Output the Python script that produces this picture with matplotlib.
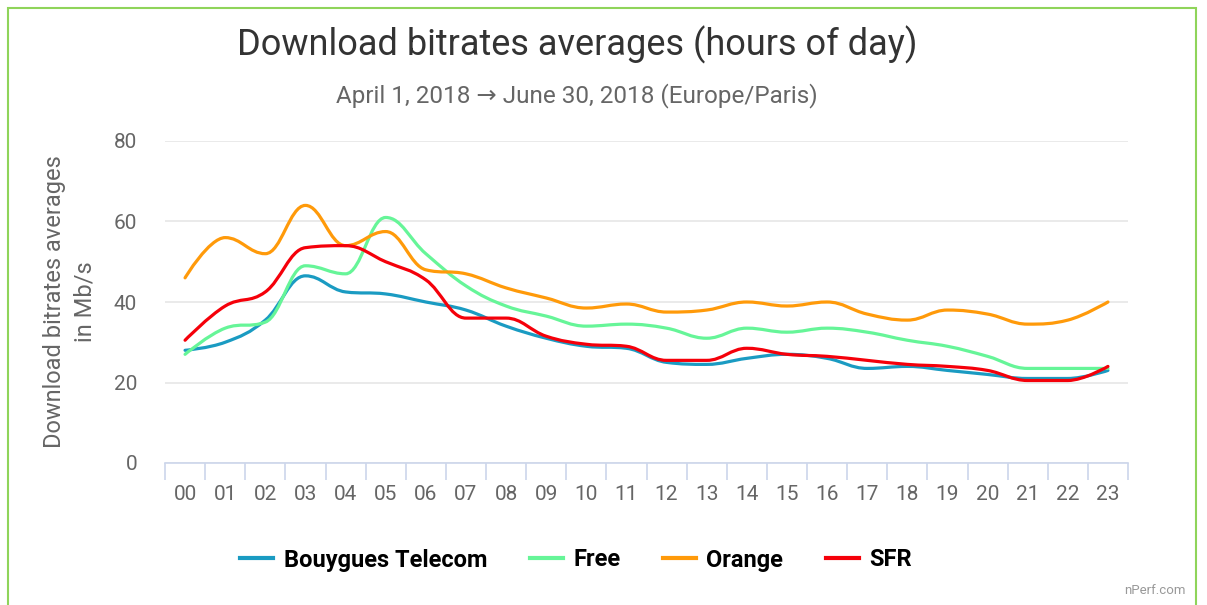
import matplotlib.pyplot as plt
import numpy as np
from matplotlib.path import Path
from matplotlib.patches import PathPatch, Rectangle
from matplotlib.lines import Line2D

plt.rcParams['font.family'] = ['Roboto', 'DejaVu Sans']

hours = ["%02d" % h for h in range(24)]
bouygues = [28, 30, 35.5, 46.5, 42.5, 42, 40, 38, 34, 31, 29, 28.5, 25, 24.5, 26, 27, 26, 23.5, 24, 23, 22, 21, 21, 23]
free = [27, 33.5, 35, 49, 47, 61, 52, 44, 39, 36.5, 34, 34.5, 33.5, 31, 33.5, 32.5, 33.5, 32.5, 30.5, 29, 26.5, 23.5, 23.5, 23.5]
orange = [46, 56, 52, 64, 54, 57.5, 48, 47, 43.5, 41, 38.5, 39.5, 37.5, 38, 40, 39, 40, 37, 35.5, 38, 37, 34.5, 35.5, 40]
sfr = [30.5, 39, 42.5, 53.5, 54, 50, 45.5, 36, 36, 31.5, 29.5, 29, 25.5, 25.5, 28.5, 27, 26.5, 25.5, 24.5, 24, 23, 20.5, 20.5, 24]

series = [("Bouygues Telecom", bouygues, "#1a9bc2"),
          ("Free", free, "#66f598"),
          ("Orange", orange, "#ff9a0a"),
          ("SFR", sfr, "#f5000a")]


def spline_path(xs, ys):
    # Highcharts-like spline through the points
    sm, den = 1.5, 2.5
    n = len(xs)
    verts = [(xs[0], ys[0])]
    codes = [Path.MOVETO]
    right = [None] * n
    left = [None] * n
    for i in range(1, n - 1):
        x, y = xs[i], ys[i]
        px, py = xs[i - 1], ys[i - 1]
        nx, ny = xs[i + 1], ys[i + 1]
        lcx = (sm * x + px) / den
        lcy = (sm * y + py) / den
        rcx = (sm * x + nx) / den
        rcy = (sm * y + ny) / den
        corr = ((rcy - lcy) * (rcx - x)) / (rcx - lcx) + y - rcy
        lcy += corr
        rcy += corr
        if lcy > py and lcy > y:
            lcy = max(py, y)
            rcy = 2 * y - lcy
        elif lcy < py and lcy < y:
            lcy = min(py, y)
            rcy = 2 * y - lcy
        if rcy > ny and rcy > y:
            rcy = max(ny, y)
            lcy = 2 * y - rcy
        elif rcy < ny and rcy < y:
            rcy = min(ny, y)
            lcy = 2 * y - rcy
        left[i] = (lcx, lcy)
        right[i] = (rcx, rcy)
    for i in range(1, n):
        c1 = right[i - 1] if right[i - 1] else (xs[i - 1], ys[i - 1])
        c2 = left[i] if left[i] else (xs[i], ys[i])
        verts += [c1, c2, (xs[i], ys[i])]
        codes += [Path.CURVE4] * 3
    return Path(verts, codes)


fig = plt.figure(figsize=(12.07, 6.05), dpi=100)
W, H = 1207, 605
ax = fig.add_axes([165 / W, 1 - 463 / H, (1128 - 165) / W, (463 - 141) / H])

x = np.arange(len(hours))
handles = []
for name, vals, col in series:
    p = spline_path(list(x.astype(float)), vals)
    ax.add_patch(PathPatch(p, facecolor='none', edgecolor=col, lw=2.3, capstyle='round', zorder=3))
    handles.append(Line2D([], [], color=col, lw=3))

ax.set_xlim(-0.5, 23.5)
ax.set_ylim(0, 80)
ax.set_yticks([0, 20, 40, 60, 80])
ax.grid(axis='y', color='#e6e6e6', lw=1.2)
ax.set_axisbelow(True)
for s in ['top', 'right', 'left']:
    ax.spines[s].set_visible(False)
ax.spines['bottom'].set_color('#ccd6eb')
ax.spines['bottom'].set_linewidth(1.2)
ax.set_xticks(x)
ax.set_xticklabels(hours)
ax.set_xticks(np.arange(-0.5, 24, 1), minor=True)
ax.tick_params(axis='x', which='major', length=0, pad=16, labelsize=15, labelcolor='#666666')
ax.tick_params(axis='x', which='minor', length=12, width=1.2, color='#ccd6eb')
ax.tick_params(axis='y', length=0, pad=20, labelsize=15, labelcolor='#666666')
ax.set_ylabel("Download bitrates averages\nin Mb/s", fontsize=17, color='#666666', linespacing=1.4)
ax.yaxis.set_label_coords(-0.071, 0.5)

fig.text(577 / W, 1 - 45 / H, "Download bitrates averages (hours of day)", ha='center', va='center',
         fontsize=26, color='#333333')
fig.text(577 / W, 1 - 96 / H, "April 1, 2018 \u2192 June 30, 2018 (Europe/Paris)", ha='center', va='center',
         fontsize=17.5, color='#666666')

fig.legend(handles, [s[0] for s in series], loc='center', bbox_to_anchor=(576 / W, 1 - 560 / H), ncol=4,
           frameon=False, handlelength=1.4, columnspacing=1.8, handletextpad=0.45,
           prop={'weight': 'bold', 'size': 17})
fig.text(1186 / W, 1 - 591 / H, "nPerf.com", ha='right', va='center', fontsize=9.5, color='#999999')

fig.add_artist(Rectangle((8 / W, -0.1), (1196 - 8) / W, 1.1 - 8 / H + 0.0, transform=fig.transFigure,
                         fill=False, edgecolor='#8fd45a', lw=1.5))

fig.savefig("out.png", dpi=100)
